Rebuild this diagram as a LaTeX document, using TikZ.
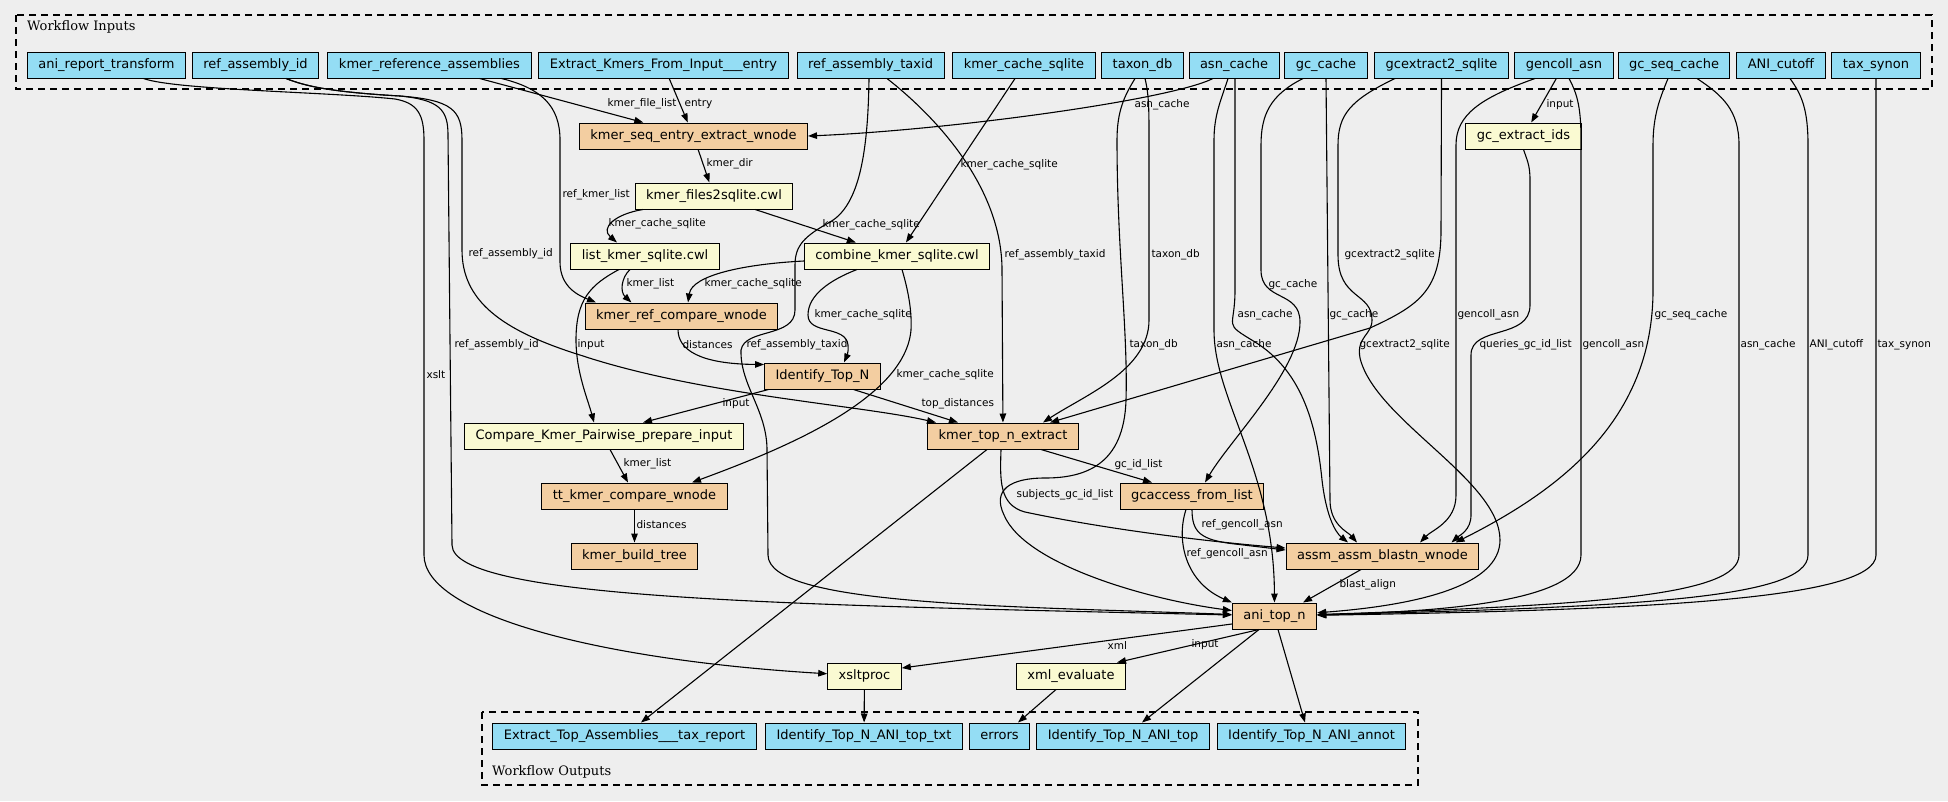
\documentclass[tikz,border=0pt]{standalone}
\usepackage{fontspec}
\setmainfont{DejaVu Sans}
\newfontfamily\clusterfont{DejaVu Serif}
\usetikzlibrary{arrows.meta}
\definecolor{inputBlue}{HTML}{94DDF4}
\definecolor{stepOrange}{HTML}{F3CEA1}
\definecolor{toolYellow}{HTML}{FAFAD2}
\definecolor{canvasGray}{HTML}{EEEEEE}

\begin{document}
\begin{tikzpicture}
[x=1pt,y=-1pt,
  boxDecorate/.style={shape=rectangle,draw,line width=1pt,minimum height=26pt,inner xsep=11pt,inner ysep=0pt,text height=9.5pt,text depth=3pt,font=\fontsize{13}{15}\selectfont},%
  ioDecorate/.style={boxDecorate,fill=inputBlue},%
  stepDecorate/.style={boxDecorate,fill=stepOrange},%
  toolDecorate/.style={boxDecorate,fill=toolYellow},%
  arrowDecorate/.style={-{Triangle[length=9pt,width=6.5pt]},line width=1.1pt},%
  labelDecorate/.style={anchor=west,inner sep=0pt,font=\fontsize{10.5}{12}\selectfont},%
  clusterDecorate/.style={dash pattern=on 7pt off 5pt,line width=1.1pt},%
  titleDecorate/.style={anchor=west,inner sep=0pt,font=\clusterfont\fontsize{13}{15}\selectfont}]
\path[use as bounding box,fill=canvasGray] (0,0) rectangle (1948,801);
%% clusters
\draw[clusterDecorate] (16,15) rectangle (1932,89);
\node[titleDecorate] (inTitle) at (27,27) {Workflow Inputs};
\draw[clusterDecorate] (482,712) rectangle (1418,785);
\node[titleDecorate] (outTitle) at (492,772) {Workflow Outputs};
%% workflow inputs
\foreach \nodename/\x/\txt in {art/106.5/ani\_report\_transform, rai/255.5/ref\_assembly\_id,
  kra/429.5/kmer\_reference\_assemblies, eke/663.5/Extract\_Kmers\_From\_Input\_\_\_entry,
  rat/870.5/ref\_assembly\_taxid, kcs/1024/kmer\_cache\_sqlite, tdb/1142.5/taxon\_db,
  asn/1234/asn\_cache, gcc/1326/gc\_cache, gce/1441.5/gcextract2\_sqlite,
  gca/1564/gencoll\_asn, gsc/1674/gc\_seq\_cache, ani/1781/ANI\_cutoff, tsy/1876/tax\_synon}
{
  \node (\nodename) at (\x,65) [ioDecorate] {\txt};
}
%% steps
\foreach \nodename/\x/\y/\txt in {kse/693.5/136/kmer\_seq\_entry\_extract\_wnode,
  krc/681.5/316/kmer\_ref\_compare\_wnode, itn/822.5/376/Identify\_Top\_N,
  kte/1003/436/kmer\_top\_n\_extract, ttk/634.5/496/tt\_kmer\_compare\_wnode,
  kbt/634.5/556/kmer\_build\_tree, gcl/1192/496/gcaccess\_from\_list,
  aab/1382.5/556/assm\_assm\_blastn\_wnode, atn/1274.5/616/ani\_top\_n}
{
  \node (\nodename) at (\x,\y) [stepDecorate] {\txt};
}
\foreach \nodename/\x/\y/\txt in {kfs/714/196/kmer\_files2sqlite.cwl,
  lks/645/256/list\_kmer\_sqlite.cwl, cks/897/256/combine\_kmer\_sqlite.cwl,
  ckp/604/436/Compare\_Kmer\_Pairwise\_prepare\_input, gei/1523.5/136/gc\_extract\_ids,
  xsl/864.5/676/xsltproc, xev/1071/676/xml\_evaluate}
{
  \node (\nodename) at (\x,\y) [toolDecorate] {\txt};
}
%% workflow outputs
\foreach \nodename/\x/\txt in {ota/624.5/Extract\_Top\_Assemblies\_\_\_tax\_report,
  ott/864/Identify\_Top\_N\_ANI\_top\_txt, oer/999.5/errors,
  otp/1123/Identify\_Top\_N\_ANI\_top, oan/1311.5/Identify\_Top\_N\_ANI\_annot}
{
  \node (\nodename) at (\x,736) [ioDecorate] {\txt};
}
%% edges from the inputs
\draw[arrowDecorate] (art) .. controls (175,90) and (330,92) .. (395,99) .. controls (418,103) and (424,115) .. (424,140) -- (424,555) .. controls (424,615) and (600,660) .. (xsl) node[labelDecorate] at (426,375) {xslt};
\draw[arrowDecorate] ([xshift=30.5pt]rai.south) .. controls (305,86) and (330,92) .. (400,96) .. controls (440,100) and (448,110) .. (448,135) -- (452,545) .. controls (453,600) and (800,605) .. (atn) node[labelDecorate] at (454,345) {ref\_assembly\_id};
\draw[arrowDecorate] ([xshift=30.5pt]rai.south) .. controls (305,86) and (330,92) .. (400,96) .. controls (452,100) and (462,110) .. (462,140) -- (462,250) .. controls (462,300) and (500,330) .. (580,355) .. controls (700,395) and (860,405) .. ([xshift=-67pt]kte.north) node[labelDecorate] at (468,254) {ref\_assembly\_id};
\draw[arrowDecorate] (kra) -- (kse) node[labelDecorate] at (607,104) {kmer\_file\_list};
\draw[arrowDecorate] ([xshift=72pt]kra.south) .. controls (540,88) and (560,105) .. (560,140) -- (560,262) .. controls (560,288) and (580,296) .. ([xshift=-85.5pt]krc.north) node[labelDecorate] at (562,195) {ref\_kmer\_list};
\draw[arrowDecorate] (eke) -- (kse) node[labelDecorate] at (684,104) {entry};
\draw[arrowDecorate] ([xshift=-1.5pt]rat.south) .. controls (868,150) and (860,205) .. (830,222) .. controls (805,236) and (795,245) .. (795,265) -- (795,310) .. controls (795,338) and (745,328) .. (741,350) .. controls (740,385) and (767,410) .. (767,450) -- (768,555) .. controls (768,605) and (1000,606) .. (atn) node[labelDecorate] at (746,345) {ref\_assembly\_taxid};
\draw[arrowDecorate] ([xshift=16.5pt]rat.south) .. controls (940,120) and (1002,190) .. (1002,270) -- (kte) node[labelDecorate] at (1004,255) {ref\_assembly\_taxid};
\draw[arrowDecorate] (kcs) -- (cks) node[labelDecorate] at (960,165) {kmer\_cache\_sqlite};
\draw[arrowDecorate] ([xshift=2.5pt]tdb.south) .. controls (1149,95) and (1149,110) .. (1149,140) -- (1149,320) .. controls (1149,370) and (1085,395) .. ([xshift=40pt]kte.north) node[labelDecorate] at (1151,255) {taxon\_db};
\draw[arrowDecorate] ([xshift=-7.5pt]tdb.south) .. controls (1125,95) and (1117,110) .. (1117,140) .. controls (1117,250) and (1128,330) .. (1126,400) .. controls (1124,465) and (1085,478) .. (1045,478) .. controls (1010,478) and (992,490) .. (1004,515) .. controls (1025,565) and (1150,600) .. (atn) node[labelDecorate] at (1129,345) {taxon\_db};
\draw[arrowDecorate] ([xshift=-21pt]asn.south) .. controls (1170,100) and (950,130) .. (kse.east) node[labelDecorate] at (1134,105) {asn\_cache};
\draw[arrowDecorate] ([xshift=-6pt]asn.south) .. controls (1221,100) and (1214,115) .. (1214,140) -- (1214,330) .. controls (1214,400) and (1274,470) .. (atn) node[labelDecorate] at (1216,345) {asn\_cache};
\draw[arrowDecorate] ([xshift=1pt]asn.south) -- (1235,290) .. controls (1235,330) and (1222,322) .. (1255,342) .. controls (1300,370) and (1316,420) .. (1322,480) .. controls (1326,515) and (1335,532) .. ([xshift=-34.5pt]aab.north) node[labelDecorate] at (1237,315) {asn\_cache};
\draw[arrowDecorate] ([xshift=-23pt]gcc.south) .. controls (1270,95) and (1261,115) .. (1261,145) -- (1261,270) .. controls (1261,302) and (1300,290) .. (1300,322) .. controls (1300,370) and (1230,440) .. ([xshift=13pt]gcl.north) node[labelDecorate] at (1268,285) {gc\_cache};
\draw[arrowDecorate] (gcc.south) -- (1330,500) .. controls (1330,525) and (1348,532) .. ([xshift=-25.5pt]aab.north) node[labelDecorate] at (1329,315) {gc\_cache};
\draw[arrowDecorate] ([xshift=-46.5pt]gce.south) .. controls (1350,100) and (1338,115) .. (1338,145) -- (1338,255) .. controls (1338,300) and (1372,292) .. (1372,320) .. controls (1372,335) and (1356,337) .. (1360,358) .. controls (1375,420) and (1500,480) .. (1500,540) .. controls (1500,585) and (1420,605) .. (atn) node[labelDecorate] at (1359,345) {gcextract2\_sqlite};
\draw[arrowDecorate] (gce.south) -- (1441,230) .. controls (1441,290) and (1420,305) .. (1370,328) -- ([xshift=47pt]kte.north) node[labelDecorate] at (1344,255) {gcextract2\_sqlite};
\draw[arrowDecorate] (gca) -- (gei) node[labelDecorate] at (1546,105) {input};
\draw[arrowDecorate] ([xshift=-29pt]gca.south) .. controls (1480,98) and (1456,115) .. (1456,145) -- (1456,495) .. controls (1456,522) and (1432,530) .. ([xshift=37.5pt]aab.north) node[labelDecorate] at (1457,315) {gencoll\_asn};
\draw[arrowDecorate] ([xshift=5pt]gca.south) .. controls (1578,95) and (1581,110) .. (1581,140) -- (1581,555) .. controls (1581,605) and (1420,612) .. (atn) node[labelDecorate] at (1582,345) {gencoll\_asn};
\draw[arrowDecorate] (gei.south) .. controls (1527,160) and (1530,165) .. (1530,180) -- (1530,305) .. controls (1530,340) and (1471,325) .. (1471,355) -- (1471,515) .. controls (1471,530) and (1460,535) .. ([xshift=69pt]aab.north) node[labelDecorate] at (1479,345) {queries\_gc\_id\_list};
\draw[arrowDecorate] ([xshift=-6pt]gsc.south) .. controls (1660,98) and (1653,115) .. (1653,145) -- (1653,290) .. controls (1653,420) and (1560,490) .. ([xshift=73pt]aab.north) node[labelDecorate] at (1654,315) {gc\_seq\_cache};
\draw[arrowDecorate] ([xshift=23pt]gsc.south) .. controls (1722,95) and (1739,110) .. (1739,145) -- (1739,555) .. controls (1739,595) and (1600,605) .. (atn) node[labelDecorate] at (1740,345) {asn\_cache};
\draw[arrowDecorate] ([xshift=9pt]ani.south) .. controls (1802,95) and (1808,110) .. (1808,145) -- (1808,555) .. controls (1808,600) and (1620,607) .. (atn) node[labelDecorate] at (1809,345) {ANI\_cutoff};
\draw[arrowDecorate] (tsy) -- (1876,555) .. controls (1876,600) and (1640,610) .. (atn) node[labelDecorate] at (1877,345) {tax\_synon};
%% edges between the steps
\draw[arrowDecorate] (kse) -- (kfs) node[labelDecorate] at (706,164) {kmer\_dir};
\draw[arrowDecorate] ([xshift=-71pt]kfs.south) .. controls (615,214) and (600,228) .. ([xshift=-28pt]lks.north) node[labelDecorate] at (608,224) {kmer\_cache\_sqlite};
\draw[arrowDecorate] (kfs) -- (cks) node[labelDecorate] at (822,225) {kmer\_cache\_sqlite};
\draw[arrowDecorate] ([xshift=-15pt]lks.south) .. controls (621,278) and (620,292) .. ([xshift=-50pt]krc.north) node[labelDecorate] at (626,284) {kmer\_list};
\draw[arrowDecorate] ([xshift=-26pt]lks.south) .. controls (590,285) and (576,300) .. (576,340) .. controls (576,372) and (588,400) .. ([xshift=-10pt]ckp.north) node[labelDecorate] at (577,345) {input};
\draw[arrowDecorate] ([yshift=-5pt]cks.west) .. controls (745,264) and (692,275) .. ([xshift=6.5pt]krc.north) node[labelDecorate] at (704,284) {kmer\_cache\_sqlite};
\draw[arrowDecorate] ([xshift=-40pt]cks.south) .. controls (830,280) and (808,295) .. (808,315) .. controls (808,335) and (846,325) .. (848,345) .. controls (849,352) and (846,358) .. ([xshift=21.5pt]itn.north) node[labelDecorate] at (814,315) {kmer\_cache\_sqlite};
\draw[arrowDecorate] ([xshift=5pt]cks.south) .. controls (908,290) and (912,310) .. (911,330) .. controls (905,400) and (780,450) .. ([xshift=57.5pt]ttk.north) node[labelDecorate] at (896,375) {kmer\_cache\_sqlite};
\draw[arrowDecorate] ([xshift=-3.5pt]krc.south) .. controls (678,350) and (700,364) .. ([yshift=-2pt]itn.north west) node[labelDecorate] at (682,345) {distances};
\draw[arrowDecorate] ([xshift=-54pt]itn.south) -- ([xshift=39pt]ckp.north) node[labelDecorate] at (722,404) {input};
\draw[arrowDecorate] ([xshift=31pt]itn.south) -- ([xshift=-45pt]kte.north) node[labelDecorate] at (921,404) {top\_distances};
\draw[arrowDecorate] ([xshift=6pt]ckp.south) -- ([xshift=-6.5pt]ttk.north) node[labelDecorate] at (623,464) {kmer\_list};
\draw[arrowDecorate] (ttk) -- (kbt) node[labelDecorate] at (636,525) {distances};
\draw[arrowDecorate] ([xshift=-16pt]kte.south) -- ([xshift=16.5pt]ota.north);
\draw[arrowDecorate] ([xshift=38pt]kte.south) -- ([xshift=-40pt]gcl.north) node[labelDecorate] at (1114,465) {gc\_id\_list};
\draw[arrowDecorate] ([xshift=-2pt]kte.south) .. controls (1000,480) and (999,505) .. (1025,512) .. controls (1100,528) and (1200,541) .. ([yshift=8pt]aab.west) node[labelDecorate] at (1016,495) {subjects\_gc\_id\_list};
\draw[arrowDecorate] (gcl.south) .. controls (1192,532) and (1200,540) .. (1235,544) -- ([yshift=6pt]aab.west) node[labelDecorate] at (1201,525) {ref\_gencoll\_asn};
\draw[arrowDecorate] ([xshift=-6pt]gcl.south) .. controls (1176,540) and (1185,582) .. (atn.north west) node[labelDecorate] at (1186,554) {ref\_gencoll\_asn};
\draw[arrowDecorate] ([xshift=-21.5pt]aab.south) -- ([xshift=28.5pt]atn.north) node[labelDecorate] at (1339,585) {blast\_align};
%% edges to the outputs
\draw[arrowDecorate] ([yshift=-8pt]atn.west) -- ([yshift=8pt]xsl.east) node[labelDecorate] at (1107,645) {xml};
\draw[arrowDecorate] ([xshift=-15.5pt]atn.south) -- ([xshift=46pt]xev.north) node[labelDecorate] at (1191,645) {input};
\draw[arrowDecorate] ([xshift=-15.5pt]atn.south) -- ([xshift=19pt]otp.north);
\draw[arrowDecorate] ([xshift=3.5pt]atn.south) -- ([xshift=-6.5pt]oan.north);
\draw[arrowDecorate] (xsl) -- (ott);
\draw[arrowDecorate] ([xshift=-15pt]xev.south) -- ([xshift=18.5pt]oer.north);
\end{tikzpicture}
\end{document}
